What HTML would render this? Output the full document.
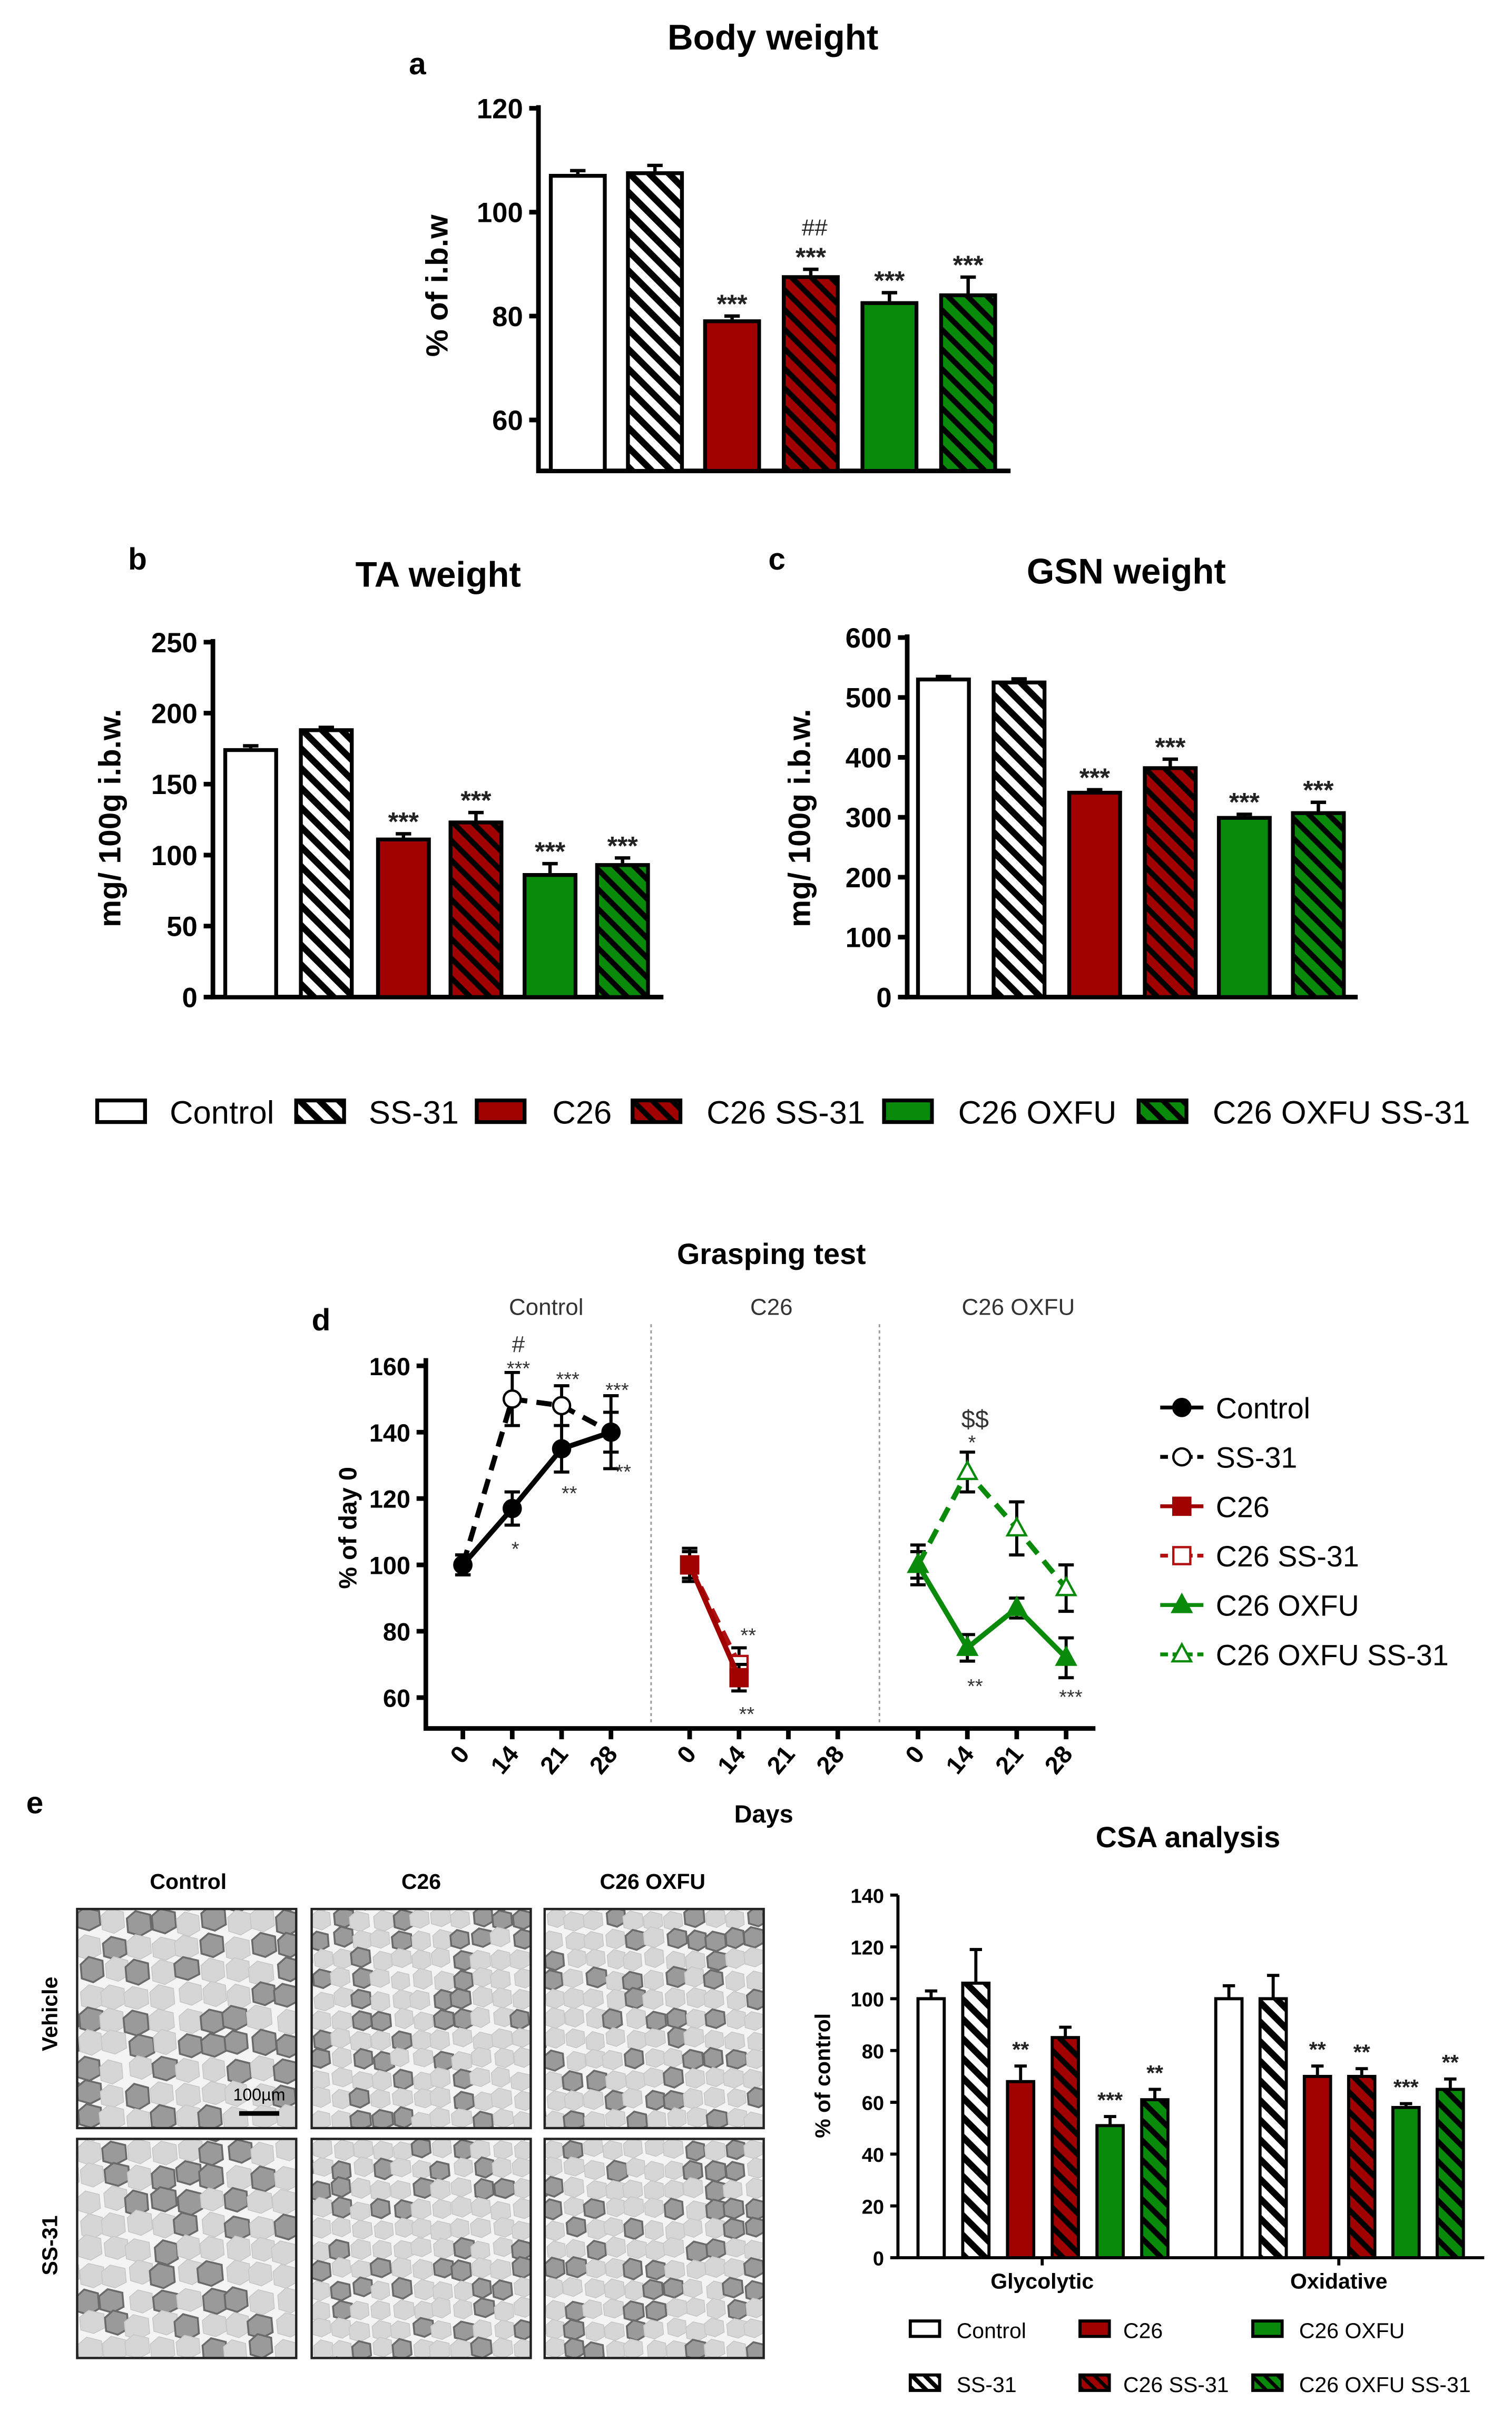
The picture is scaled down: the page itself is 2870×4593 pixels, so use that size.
<!DOCTYPE html>
<html><head><meta charset="utf-8"><style>
html,body{margin:0;padding:0;background:#fff}
svg{display:block}
text{font-family:"Liberation Sans",Arial,sans-serif}
</style></head><body>
<svg id="fig" xmlns="http://www.w3.org/2000/svg" width="2870" height="4593" viewBox="0 0 980 1568">
<defs>
<pattern id="hB" width="9" height="9" patternUnits="userSpaceOnUse" patternTransform="rotate(-45)"><rect width="9" height="9" fill="#fff"/><rect width="4.2" height="9" fill="#000"/></pattern>
<pattern id="hR" width="9" height="9" patternUnits="userSpaceOnUse" patternTransform="rotate(-45)"><rect width="9" height="9" fill="#a00000"/><rect width="3.5" height="9" fill="#000"/></pattern>
<pattern id="hG" width="9" height="9" patternUnits="userSpaceOnUse" patternTransform="rotate(-45)"><rect width="9" height="9" fill="#0a8a0a"/><rect width="3.5" height="9" fill="#000"/></pattern>
<pattern id="sB" width="6" height="6" patternUnits="userSpaceOnUse" patternTransform="rotate(-45)"><rect width="6" height="6" fill="#fff"/><rect width="2.8" height="6" fill="#000"/></pattern>
<pattern id="sR" width="6" height="6" patternUnits="userSpaceOnUse" patternTransform="rotate(-45)"><rect width="6" height="6" fill="#a00000"/><rect width="2.3" height="6" fill="#000"/></pattern>
<pattern id="sG" width="6" height="6" patternUnits="userSpaceOnUse" patternTransform="rotate(-45)"><rect width="6" height="6" fill="#0a8a0a"/><rect width="2.3" height="6" fill="#000"/></pattern>
</defs>
</svg>
<script>
// ---- data ----
const groups = ['Control','SS-31','C26','C26 SS-31','C26 OXFU','C26 OXFU SS-31'];
const bwValues = [107, 107.5, 79, 87.5, 82.5, 84];
const bwErrors = [1, 1.5, 1, 1.5, 2, 3.5];
const bwStars = ['', '', '***', '***', '***', '***'];
const bwTicks = [60, 80, 100, 120];
const taValues = [174, 188, 111, 123, 86, 93];
const taErrors = [3, 2, 4, 7, 8, 5];
const taStars = ['', '', '***', '***', '***', '***'];
const taTicks = [0, 50, 100, 150, 200, 250];
const gsnValues = [530, 525, 341, 382, 299, 307];
const gsnErrors = [5, 6, 5, 15, 6, 18];
const gsnStars = ['', '', '***', '***', '***', '***'];
const gsnTicks = [0, 100, 200, 300, 400, 500, 600];
const days = ['0','14','21','28'];
const gripTicks = [60, 80, 100, 120, 140, 160];
const gripControl = [100, 117, 135, 140];
const gripControlErr = [3, 5, 7, 6];
const gripSS31 = [100, 150, 148, 140];
const gripSS31Err = [3, 8, 6, 11];
const gripC26 = [100, 66];
const gripC26Err = [5, 4];
const gripC26SS = [100, 70];
const gripC26SSErr = [4, 5];
const gripOXFU = [100, 75, 87, 72];
const gripOXFUErr = [6, 4, 3, 6];
const gripOXFUSS = [100, 128, 111, 93];
const gripOXFUSSErr = [4, 6, 8, 7];
const csaCats = ['Glycolytic','Oxidative'];
const csaGlyc = [100, 106, 68, 85, 51, 61];
const csaGlycErr = [3, 13, 6, 4, 3.5, 4];
const csaGlycStars = ['', '', '**', '', '***', '**'];
const csaOxid = [100, 100, 70, 70, 58, 65];
const csaOxidErr = [5, 9, 4, 3, 1.5, 4];
const csaOxidStars = ['', '', '**', '**', '***', '**'];
const csaTicks = [0, 20, 40, 60, 80, 100, 120, 140];

const NS='http://www.w3.org/2000/svg';
const svg=document.getElementById('fig');
function el(tag,attrs,parent){const e=document.createElementNS(NS,tag);for(const k in attrs)e.setAttribute(k,attrs[k]);(parent||svg).appendChild(e);return e;}
function txt(s,attrs,parent){const e=el('text',attrs,parent);e.textContent=s;return e;}
const fills=['#fff','url(#hB)','#a00000','url(#hR)','#0a8a0a','url(#hG)'];
const sfills=['#fff','url(#sB)','#a00000','url(#sR)','#0a8a0a','url(#sG)'];

function barPanel(cfg, values, errors, stars, ticks, key){
  const g=el('g',{});
  
  
  const y=v=>cfg.yA-(v-cfg.vA)*(cfg.yA-cfg.yB)/(cfg.vB-cfg.vA);
  const ax=el('path',{d:`M${cfg.ax} ${cfg.top} V${cfg.bottom} H${cfg.xEnd}`,fill:'none',stroke:'#000','stroke-width':cfg.aw||3},g);
  
  
  ticks.forEach(t=>{
    const tk=el('line',{x1:cfg.ax-6,x2:cfg.ax,y1:y(t),y2:y(t),stroke:'#000','stroke-width':cfg.aw||3},g);
    
    
    const tl=txt(String(t),{x:cfg.ax-10,y:y(t)+cfg.fs*0.36,'text-anchor':'end','font-size':cfg.fs,'font-weight':'bold'},g);
    
    
  });
  values.forEach((v,i)=>{
    const x=cfg.bx[i], w=cfg.bw, top=y(v), base=cfg.bottom;
    const b=el('rect',{x:x,y:top,width:w,height:base-top,fill:fills[i],stroke:'#000','stroke-width':cfg.sw||2.5},g);
    
    
    const et=y(v+errors[i]), cx=x+w/2;
    const eb=el('path',{d:`M${cx} ${top} V${et} M${cx-5} ${et} H${cx+5}`,stroke:'#000','stroke-width':2.2,fill:'none'},g);
    
    
    if(stars[i]){
      const s=txt(stars[i],{x:cx,y:et-8+cfg.sfs*0.35,'text-anchor':'middle','font-size':cfg.sfs,fill:'#222','font-weight':'bold'},g);
      
      
    }
  });
  return {g,y};
}

// Panel a
let t=txt('Body weight',{x:501,y:32,'text-anchor':'middle','font-size':23,'font-weight':'bold'});


t=txt('a',{x:265,y:48,'font-size':20,'font-weight':'bold'});


const pa=barPanel({ax:349,top:68,bottom:305,xEnd:655,yA:272,vA:60,yB:70,vB:120,bx:[357,407,457,508,559,610],bw:35,fs:18,sfs:17},bwValues,bwErrors,bwStars,bwTicks,'body-weight');
t=txt('##',{x:528,y:pa.y(bwValues[3]+bwErrors[3])-22,'text-anchor':'middle','font-size':15,fill:'#222'});


t=txt('% of i.b.w',{x:0,y:0,'text-anchor':'middle','font-size':20,'font-weight':'bold',transform:'translate(290,185) rotate(-90)'});



// Panel b
t=txt('TA weight',{x:284,y:380,'text-anchor':'middle','font-size':23,'font-weight':'bold'});


t=txt('b',{x:83,y:369,'font-size':20,'font-weight':'bold'});


barPanel({ax:138,top:414,bottom:646,xEnd:430,yA:646,vA:0,yB:416,vB:250,bx:[146,195,245,292,340,387],bw:33,fs:18,sfs:17},taValues,taErrors,taStars,taTicks,'ta-weight');
t=txt('mg/ 100g i.b.w.',{x:0,y:0,'text-anchor':'middle','font-size':20,'font-weight':'bold',transform:'translate(78,530) rotate(-90)'});



// Panel c
t=txt('GSN weight',{x:730,y:378,'text-anchor':'middle','font-size':23,'font-weight':'bold'});


t=txt('c',{x:498,y:369,'font-size':20,'font-weight':'bold'});


barPanel({ax:588,top:411,bottom:646,xEnd:880,yA:646,vA:0,yB:413,vB:600,bx:[595,644,693,742,790,838],bw:33,fs:18,sfs:17},gsnValues,gsnErrors,gsnStars,gsnTicks,'gsn-weight');
t=txt('mg/ 100g i.b.w.',{x:0,y:0,'text-anchor':'middle','font-size':20,'font-weight':'bold',transform:'translate(525,530) rotate(-90)'});



// main legend
const legBx=[63,192,309,410,573,738], legTx=[110,239,358,458,621,786];
groups.forEach((n,i)=>{
  const r=el('rect',{x:legBx[i],y:713,width:31,height:14,fill:fills[i],stroke:'#000','stroke-width':2.5});
  
  
  const tt=txt(n,{x:legTx[i],y:728,'font-size':21});
  
  
});

// Panel d
t=txt('Grasping test',{x:500,y:819,'text-anchor':'middle','font-size':19,'font-weight':'bold'});


t=txt('d',{x:202,y:862,'font-size':20,'font-weight':'bold'});


[['Control',354],['C26',500],['C26 OXFU',660]].forEach(([s,x])=>{
  const e=txt(s,{x:x,y:852,'text-anchor':'middle','font-size':15,fill:'#333'});
  
  
});
const dy=v=>885+(160-v)*2.15;
const gx=[300,447,595];
const dx=(g,i)=>gx[g]+i*32;
let e=el('path',{d:'M276 880 V1120 H710',fill:'none',stroke:'#000','stroke-width':3});


[422,570].forEach(x=>{
  const s=el('line',{x1:x,x2:x,y1:858,y2:1118,stroke:'#999','stroke-width':1,'stroke-dasharray':'2 2'});
  
  
});
gripTicks.forEach(v=>{
  const k=el('line',{x1:270,x2:276,y1:dy(v),y2:dy(v),stroke:'#000','stroke-width':3});
  
  
  const l=txt(String(v),{x:266,y:dy(v)+6,'text-anchor':'end','font-size':16,'font-weight':'bold'});
  
  
});
[0,1,2].forEach(g=>days.forEach((d,i)=>{
  const x=dx(g,i);
  const k=el('line',{x1:x,x2:x,y1:1120,y2:1127,stroke:'#000','stroke-width':3});
  
  
  const l=txt(d,{x:0,y:0,'text-anchor':'end','font-size':16,'font-weight':'bold',transform:`translate(${x+5},${1137}) rotate(-50)`});
  
  
}));
t=txt('Days',{x:495,y:1181,'text-anchor':'middle','font-size':16,'font-weight':'bold'});


t=txt('% of day 0',{x:0,y:0,'text-anchor':'middle','font-size':16,'font-weight':'bold',transform:'translate(231,990) rotate(-90)'});



function marker(type,x,y,color,open,parent){
  let m;
  if(type==='circle') m=el('circle',{cx:x,cy:y,r:5.5,fill:open?'#fff':color,stroke:color,'stroke-width':1.5},parent);
  else if(type==='square') m=el('rect',{x:x-5.5,y:y-5.5,width:11,height:11,fill:open?'#fff':color,stroke:color,'stroke-width':1.5},parent);
  else m=el('path',{d:`M${x} ${y-6.5} L${x+6} ${y+4.5} H${x-6} Z`,fill:open?'#fff':color,stroke:color,'stroke-width':1.5},parent);
  return m;
}
function series(name,g,vals,errs,color,dash,type,open){
  const grp=el('g',{});
  
  
  const pts=vals.map((v,i)=>[dx(g,i),dy(v)]);
  vals.forEach((v,i)=>{
    const x=pts[i][0],y1=dy(v+errs[i]),y2=dy(v-errs[i]);
    const b=el('path',{d:`M${x} ${y1} V${y2} M${x-5} ${y1} H${x+5} M${x-5} ${y2} H${x+5}`,stroke:'#000','stroke-width':2,fill:'none'},grp);
    
    
  });
  const l=el('polyline',{points:pts.map(p=>p.join(',')).join(' '),fill:'none',stroke:color,'stroke-width':3.3,'stroke-dasharray':dash?'10 6':'none'},grp);
  
  
  pts.forEach(p=>{
    const m=marker(type,p[0],p[1],color,open,grp);
    
    
  });
}
series('ss-31',0,gripSS31,gripSS31Err,'#000',true,'circle',true);
series('control',0,gripControl,gripControlErr,'#000',false,'circle',false);
series('c26-ss-31',1,gripC26SS,gripC26SSErr,'#b01010',true,'square',true);
series('c26',1,gripC26,gripC26Err,'#a00000',false,'square',false);
series('c26-oxfu-ss-31',2,gripOXFUSS,gripOXFUSSErr,'#0a8a0a',true,'triangle',true);
series('c26-oxfu',2,gripOXFU,gripOXFUErr,'#0a8a0a',false,'triangle',false);
[['#',336,876,15],['***',336,891,13],['***',368,898,13],['***',400,905,13],['*',334,1008,13],['**',369,972,13],['**',404,958,13],['**',485,1064,13],['**',484,1115,13],['$$',632,925,16],['*',630,939,13],['**',632,1097,13],['***',694,1104,13]].forEach(a=>{
  const s=txt(a[0],{x:a[1],y:a[2],'text-anchor':'middle','font-size':a[3],fill:'#333'});
  
  
});
// panel d legend
const dl=[['Control','#000',false,'circle',false],['SS-31','#000',true,'circle',true],['C26','#a00000',false,'square',false],['C26 SS-31','#b01010',true,'square',true],['C26 OXFU','#0a8a0a',false,'triangle',false],['C26 OXFU SS-31','#0a8a0a',true,'triangle',true]];
dl.forEach((d,i)=>{
  const yy=912+i*32;
  const ln=el('line',{x1:752,x2:780,y1:yy,y2:yy,stroke:d[1],'stroke-width':2.5,'stroke-dasharray':d[2]?'5 3':'none'});
  
  
  const m=marker(d[3],766,yy,d[1],d[4]);
  
  
  const tt=txt(d[0],{x:788,y:yy+7,'font-size':19});
  
  
});

// Panel e - micrographs
t=txt('e',{x:17,y:1175,'font-size':20,'font-weight':'bold'});


[['Control',122],['C26',273],['C26 OXFU',423]].forEach(([s,x])=>{
  const q=txt(s,{x:x,y:1224,'text-anchor':'middle','font-size':14,'font-weight':'bold'});
  
  
});
[['Vehicle',1305],['SS-31',1455]].forEach(([s,y])=>{
  const q=txt(s,{x:0,y:0,'text-anchor':'middle','font-size':14,'font-weight':'bold',transform:`translate(37,${y}) rotate(-90)`});
  
  
});
let seed=12345;
function rnd(){seed=(seed*1103515245+12345)%2147483648;return seed/2147483648;}
const imX=[50,202,353], imY=[1237,1386];
imY.forEach((iy,r)=>imX.forEach((ix,c)=>{
  const grp=el('g',{});
  
  
  const id='clip'+r+c;
  const cp=el('clipPath',{id:id},grp);
  el('rect',{x:ix,y:iy,width:142,height:142},cp);
  const inner=el('g',{'clip-path':`url(#${id})`},grp);
  el('rect',{x:ix,y:iy,width:142,height:142,fill:'#f4f4f4'},inner);
  const cs=c===0?16:13, darkP=c===0?0.4:0.28;
  for(let yy=iy-cs;yy<iy+142+cs;yy+=cs){
    for(let xx=ix-cs;xx<ix+142+cs;xx+=cs){
      const cx=xx+cs/2+(rnd()-0.5)*cs*0.25, cy=yy+cs/2+(rnd()-0.5)*cs*0.25, w=cs*(0.46+rnd()*0.06), h=cs*(0.46+rnd()*0.06);
      const dark=rnd()<darkP;
      el('path',{d:`M${cx-w} ${cy-h*0.4} L${cx-w*0.3} ${cy-h} L${cx+w*0.9} ${cy-h*0.7} L${cx+w} ${cy+h*0.5} L${cx+w*0.1} ${cy+h} L${cx-w*0.9} ${cy+h*0.7} Z`,fill:dark?'#9a9a9a':'#d6d6d6',stroke:dark?'#6a6a6a':'#c8c8c8','stroke-width':dark?1.2:0.6},inner);
    }
  }
  el('rect',{x:ix,y:iy,width:142,height:142,fill:'none',stroke:'#222','stroke-width':1.5},grp);
}));
t=txt('100µm',{x:168,y:1361,'text-anchor':'middle','font-size':11});


e=el('rect',{x:155,y:1368,width:26,height:3,fill:'#000'});



// CSA chart
t=txt('CSA analysis',{x:770,y:1197,'text-anchor':'middle','font-size':19,'font-weight':'bold'});


const csaY=v=>1463-v*(1463-1228)/140;
e=el('path',{d:'M582 1228 V1463 H962',fill:'none',stroke:'#000','stroke-width':2});


csaTicks.forEach(v=>{
  const k=el('line',{x1:577,x2:582,y1:csaY(v),y2:csaY(v),stroke:'#000','stroke-width':2});
  
  
  const l=txt(String(v),{x:573,y:csaY(v)+5,'text-anchor':'end','font-size':13,'font-weight':'bold'});
  
  
});
const csaStart=[595,788], csaStep=[29,28.7];
[[csaGlyc,csaGlycErr,csaGlycStars],[csaOxid,csaOxidErr,csaOxidStars]].forEach((set,gi)=>{
  set[0].forEach((v,i)=>{
    const x=csaStart[gi]+i*csaStep[gi], w=17, top=csaY(v);
    const b=el('rect',{x:x,y:top,width:w,height:1463-top,fill:fills[i],stroke:'#000','stroke-width':2});
    
    
    const et=csaY(v+set[1][i]), cx=x+w/2;
    const eb=el('path',{d:`M${cx} ${top} V${et} M${cx-4} ${et} H${cx+4}`,stroke:'#000','stroke-width':2,fill:'none'});
    
    
    if(set[2][i]){
      const s=txt(set[2][i],{x:cx,y:et-6,'text-anchor':'middle','font-size':14,fill:'#222','font-weight':'bold'});
      
      
    }
  });
  const xm=csaStart[gi]+2.5*csaStep[gi]+8;
  const k=el('line',{x1:xm,x2:xm,y1:1463,y2:1468,stroke:'#000','stroke-width':2});
  
  
  const l=txt(csaCats[gi],{x:xm,y:1483,'text-anchor':'middle','font-size':14,'font-weight':'bold'});
  
  
});
t=txt('% of control',{x:0,y:0,'text-anchor':'middle','font-size':14,'font-weight':'bold',transform:'translate(538,1345) rotate(-90)'});


const clx=[590,590,700,700,812,812], cly=[1510,1545,1510,1545,1510,1545], order=[0,1,2,3,4,5];
const ctx=[620,620,728,728,842,842];
order.forEach(i=>{
  const r=el('rect',{x:clx[i],y:cly[i]-6,width:19,height:10,fill:sfills[i],stroke:'#000','stroke-width':2});
  
  
  const tt=txt(groups[i],{x:ctx[i],y:cly[i]+5,'font-size':14});
  
  
});
</script>
</body></html>
